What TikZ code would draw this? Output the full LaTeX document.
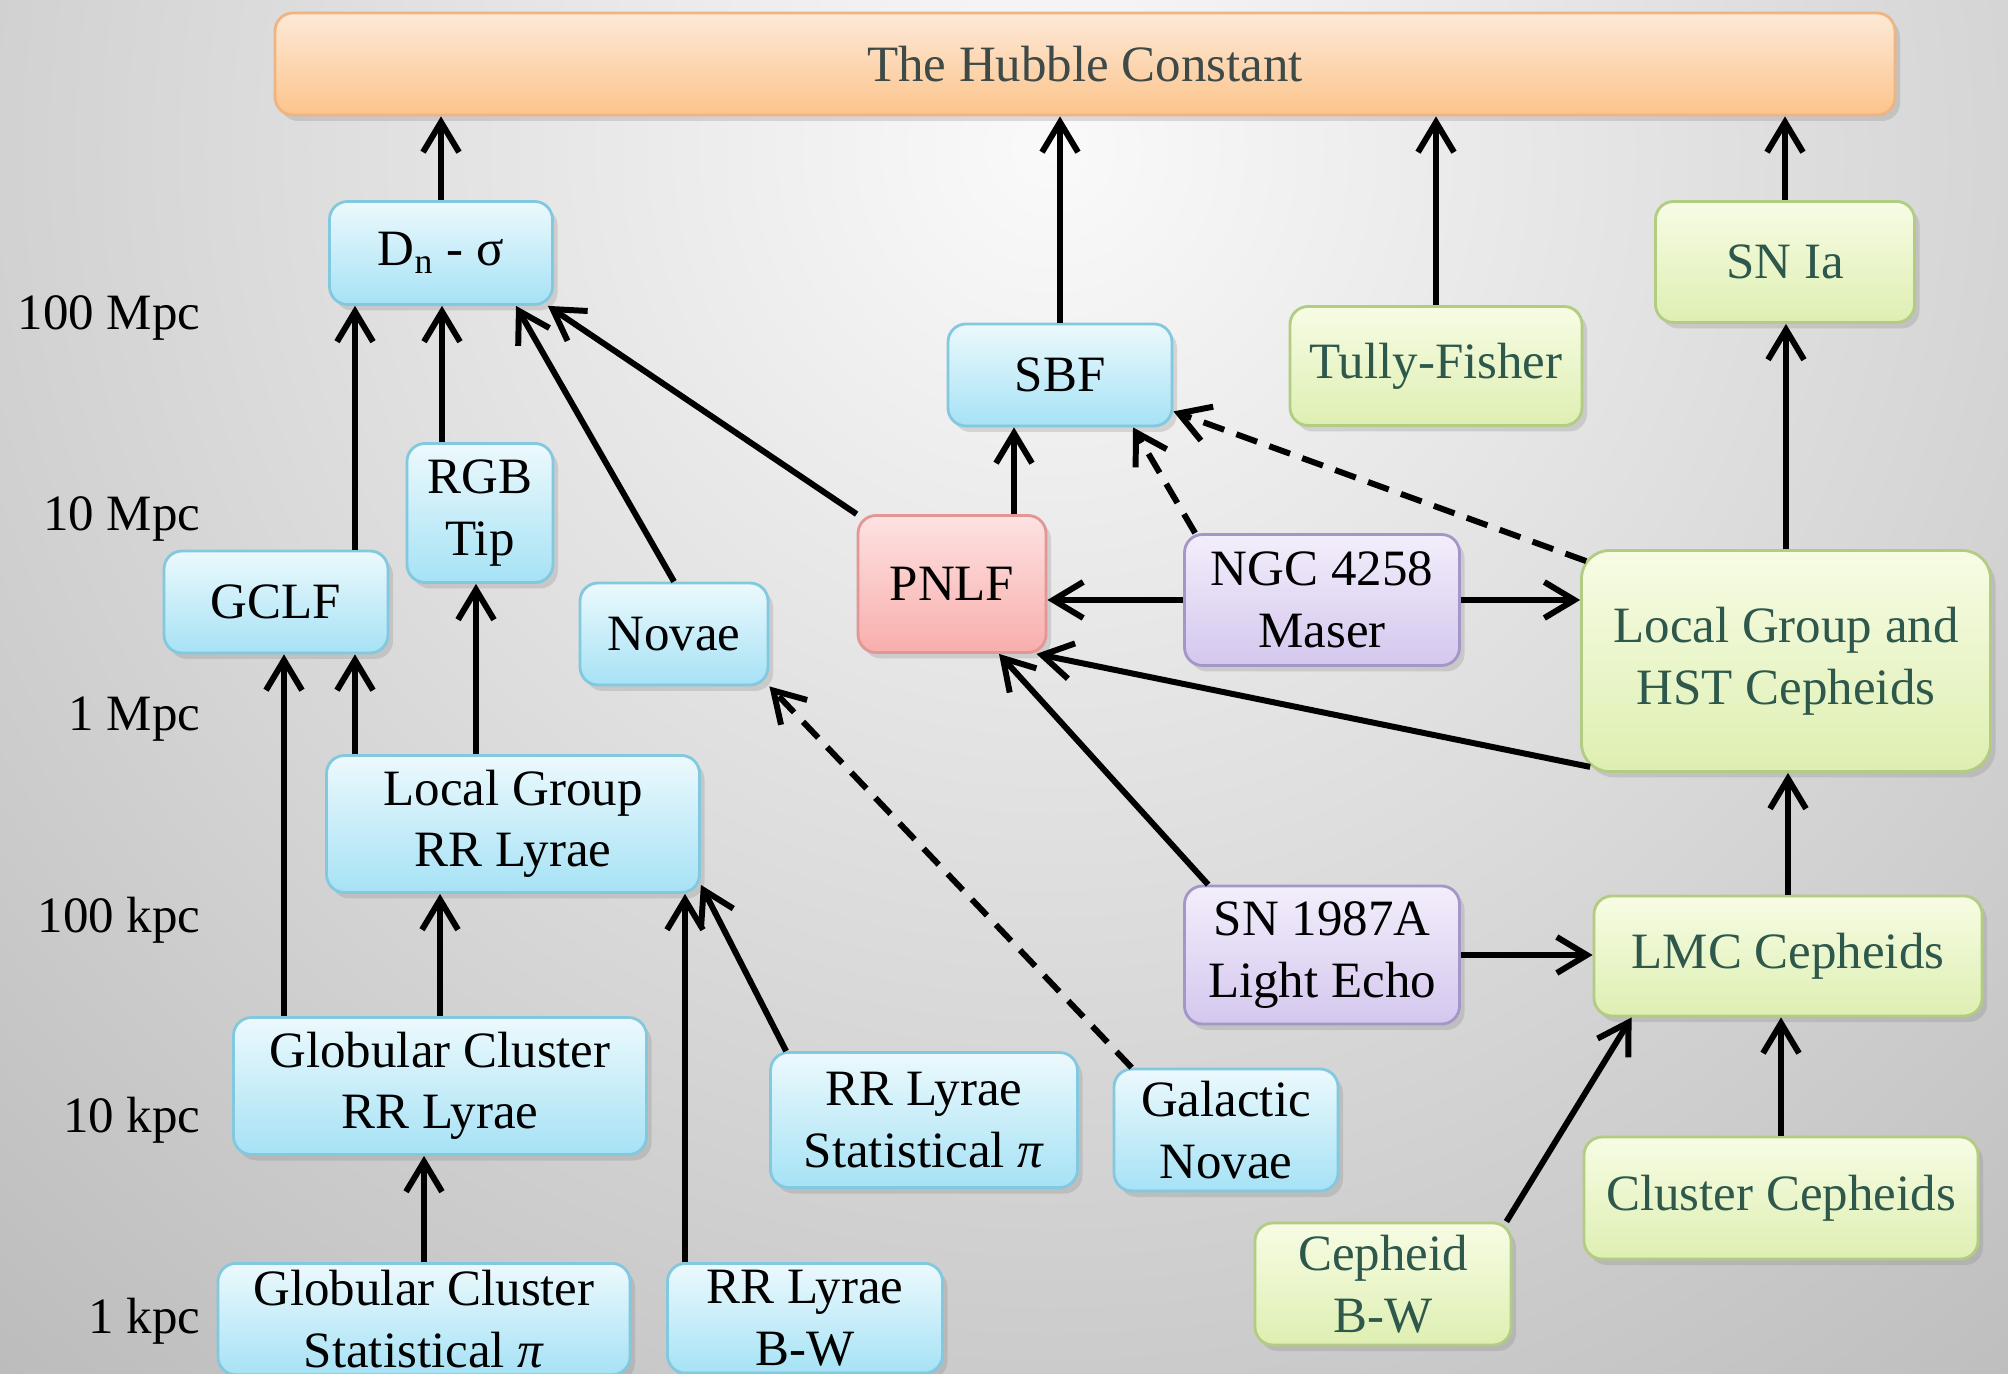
\documentclass[tikz,border=0pt]{standalone}
\usepackage{fontspec}
\setmainfont{Liberation Serif}
\usepackage{tikz}
\usetikzlibrary{positioning, arrows.meta, shadows}

\definecolor{bgin}{RGB}{250,250,250}
\definecolor{bgout}{RGB}{150,150,150}
\definecolor{bluetop}{RGB}{236,249,253}
\definecolor{bluebot}{RGB}{166,226,245}
\definecolor{blueline}{RGB}{130,200,222}
\definecolor{greentop}{RGB}{247,252,228}
\definecolor{greenbot}{RGB}{222,239,178}
\definecolor{greenline}{RGB}{178,204,130}
\definecolor{greentext}{RGB}{46,88,76}
\definecolor{pinktop}{RGB}{253,226,226}
\definecolor{pinkbot}{RGB}{248,174,172}
\definecolor{pinkline}{RGB}{226,150,150}
\definecolor{purptop}{RGB}{243,238,251}
\definecolor{purpbot}{RGB}{212,199,238}
\definecolor{purpline}{RGB}{165,150,200}
\definecolor{orangetop}{RGB}{253,233,215}
\definecolor{orangebot}{RGB}{252,196,140}
\definecolor{orangeline}{RGB}{240,180,130}
\definecolor{titletext}{RGB}{62,74,72}

\tikzstyle{Arrow} = [
    line width = 1.7pt,
    -{Straight Barb[length=3mm, width=3.6mm]}
]
\tikzstyle{DashArrow} = [Arrow, dash pattern = on 2.2mm off 1.3mm]

\begin{document}
\begin{tikzpicture}[
x = 0.1mm, y = -0.1mm,
box/.style = {
    rectangle,
    rounded corners = 1.8mm,
    line width = 0.8pt,
    align = center,
    inner sep = 2pt,
    font = \fontsize{14.5}{17.5}\selectfont,
    drop shadow = {shadow xshift=0.5mm, shadow yshift=-0.6mm, opacity=0.25}
    },
wh/.style 2 args = {minimum width=#1, minimum height=#2},
bluebox/.style = {box, draw=blueline, top color=bluetop, bottom color=bluebot},
greenbox/.style = {box, draw=greenline, top color=greentop, bottom color=greenbot, text=greentext},
pinkbox/.style = {box, draw=pinkline, top color=pinktop, bottom color=pinkbot},
purpbox/.style = {box, draw=purpline, top color=purptop, bottom color=purpbot},
orangebox/.style = {box, draw=orangeline, top color=orangetop, bottom color=orangebot, text=titletext},
scalelab/.style = {anchor=east, inner sep=0pt, font=\fontsize{14.5}{17.5}\selectfont}
]

\clip (0,0) rectangle (2008,1374);
\shade[inner color=bgin, outer color=bgout] (-1550,-2450) rectangle (3650,2750);

% distance scale
\foreach \lab [count=\i] in {100 Mpc, 10 Mpc, 1 Mpc, 100 kpc, 10 kpc, 1 kpc}
    \node[scalelab] (s\i) at (201, {318+200.6*(\i-1)}) {\lab};

\node[orangebox, wh={162mm}{10.2mm}] (H0) at (1085,64) {The Hubble Constant};

\node[bluebox, wh={22.3mm}{10.3mm}] (Dn) at (441,253) {D\textsubscript{n} - σ};
\node[bluebox, wh={22.4mm}{10.2mm}] (SBF) at (1060,375) {SBF};
\node[bluebox, wh={14.6mm}{13.9mm}] (RGB) at (480,513) {RGB\\Tip};
\node[bluebox, wh={22.4mm}{10.2mm}] (GCLF) at (276,602) {GCLF};
\node[bluebox, wh={18.8mm}{10.2mm}] (Novae) at (674,634) {Novae};
\node[bluebox, wh={37.3mm}{13.7mm}] (LGRR) at (513,824) {Local Group\\RR Lyrae};
\node[bluebox, wh={41.3mm}{13.7mm}] (GCRR) at (440,1086) {Globular Cluster\\RR Lyrae};
\node[bluebox, wh={30.7mm}{13.5mm}] (RRStat) at (924,1120) {RR Lyrae\\Statistical \textit{π}};
\node[bluebox, wh={22.4mm}{12.2mm}] (GalNov) at (1226,1130) {Galactic\\Novae};
\node[bluebox, wh={41.2mm}{10mm}, anchor=north] (GCStat) at (424,1262) {Globular Cluster\\Statistical \textit{π}};
\node[bluebox, wh={27.5mm}{10mm}, anchor=north] (RRBW) at (805,1262) {RR Lyrae\\B-W};

\node[pinkbox, wh={18.8mm}{13.7mm}] (PNLF) at (952,584) {PNLF};
\node[purpbox, wh={27.5mm}{13.1mm}] (NGC) at (1322,600) {NGC 4258\\Maser};
\node[purpbox, wh={27.5mm}{13.8mm}] (SN87) at (1322,955) {SN 1987A\\Light Echo};

\node[greenbox, wh={29.2mm}{11.9mm}] (TF) at (1436,366) {Tully-Fisher};
\node[greenbox, wh={25.9mm}{12.1mm}] (SNIa) at (1785,262) {SN Ia};
\node[greenbox, wh={40.9mm}{22.1mm}, rounded corners=2.8mm] (LGHST) at (1786,661) {Local Group and\\HST Cepheids};
\node[greenbox, wh={38.8mm}{12mm}] (LMC) at (1788,956) {LMC Cepheids};
\node[greenbox, wh={39.4mm}{12.2mm}] (ClCeph) at (1781,1198) {Cluster Cepheids};
\node[greenbox, wh={25.6mm}{12.2mm}] (CephBW) at (1383,1284) {Cepheid\\B-W};

% to the Hubble constant
\draw[Arrow] (Dn.north) -- (Dn.north |- H0.south);
\draw[Arrow] (SBF.north) -- (SBF.north |- H0.south);
\draw[Arrow] (TF.north) -- (TF.north |- H0.south);
\draw[Arrow] (SNIa.north) -- (SNIa.north |- H0.south);

% Dn - sigma
\draw[Arrow] ([xshift=7.9mm]GCLF.north) -- ([xshift=7.9mm]GCLF.north |- Dn.south);
\draw[Arrow] ([xshift=-3.8mm]RGB.north) -- ([xshift=-3.8mm]RGB.north |- Dn.south);
\draw[Arrow] (Novae.north) -- ([xshift=7.5mm]Dn.south);
\draw[Arrow] (PNLF.north west) -- ([xshift=-0.6mm]Dn.south east);

% SBF and PNLF
\draw[Arrow] ([xshift=6.2mm]PNLF.north) -- ([xshift=6.2mm]PNLF.north |- SBF.south);
\draw[DashArrow] ([xshift=1.2mm]NGC.north west) -- ([xshift=7.3mm]SBF.south);
\draw[DashArrow] ([xshift=0.6mm, yshift=-1.2mm]LGHST.north west) -- ([yshift=1.6mm]SBF.south east);
\draw[Arrow] (NGC.west) -- (NGC.west -| PNLF.east);
\draw[Arrow] (NGC.east) -- (NGC.east -| LGHST.west);
\draw[Arrow] ([xshift=1mm, yshift=0.6mm]LGHST.south west) -- ([xshift=-1.1mm]PNLF.south east);
\draw[Arrow] ([xshift=2.5mm]SN87.north west) -- ([xshift=4.7mm]PNLF.south);

% Cepheids
\draw[Arrow] (SN87.east) -- (SN87.east -| LMC.west);
\draw[Arrow] (LMC.north) -- (LMC.north |- LGHST.south);
\draw[Arrow] (LGHST.north) -- (LGHST.north |- SNIa.south);
\draw[Arrow] (ClCeph.north) -- (ClCeph.north |- LMC.south);
\draw[Arrow] ([xshift=-0.6mm]CephBW.north east) -- ([xshift=3.9mm]LMC.south west);

% RR Lyrae and novae
\draw[Arrow] ([xshift=-15.6mm]GCRR.north) -- ([xshift=-15.6mm]GCRR.north |- GCLF.south);
\draw[Arrow] ([xshift=-15.8mm]LGRR.north) -- ([xshift=-15.8mm]LGRR.north |- GCLF.south);
\draw[Arrow] ([xshift=-3.7mm]LGRR.north) -- ([xshift=-3.7mm]LGRR.north |- RGB.south);
\draw[Arrow] (GCRR.north) -- (GCRR.north |- LGRR.south);
\draw[Arrow] (GCStat.north) -- (GCStat.north |- GCRR.south);
\draw[Arrow] ([xshift=-12mm]RRBW.north) -- ([xshift=-12mm]RRBW.north |- LGRR.south);
\draw[Arrow] ([xshift=1.7mm]RRStat.north west) -- ([yshift=0.9mm]LGRR.south east);
\draw[DashArrow] ([xshift=1.9mm]GalNov.north west) -- (Novae.south east);

\end{tikzpicture}
\end{document}
